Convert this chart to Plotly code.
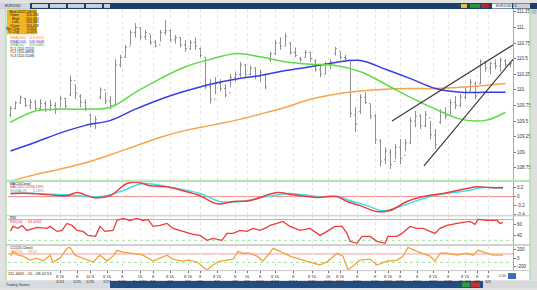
import plotly.graph_objects as go

# ---------------- data ----------------
bar_index = list(range(101))
open_ = [109.60,109.70,109.79,109.86,109.75,109.80,109.70,109.78,109.68,109.75,
         109.70,109.86,109.92,110.15,109.90,109.80,109.60,109.45,109.88,110.00,
         109.82,109.76,110.40,110.52,110.70,110.92,111.00,110.85,110.90,110.76,
         110.72,110.92,110.95,110.80,110.84,110.72,110.66,110.76,110.66,110.52,
         110.05,109.85,110.10,110.02,109.95,110.20,110.25,110.40,110.25,110.35,
         110.22,110.25,110.48,110.58,110.75,110.70,110.75,110.60,110.50,110.52,
         110.60,110.46,110.32,110.25,110.40,110.58,110.62,110.52,110.48,109.60,
         109.65,109.88,109.78,109.58,109.18,108.88,109.00,108.85,109.08,108.95,
         109.15,109.50,109.58,109.42,109.55,109.28,109.48,109.64,109.60,109.80,
         109.75,109.88,109.98,110.10,110.10,110.45,110.35,110.42,110.38,110.46,
         110.40]
high_ = [109.74,109.82,109.91,109.87,109.85,109.84,109.85,109.82,109.84,109.80,
         109.90,109.87,110.23,110.09,109.93,109.85,109.61,109.58,110.04,109.96,
         109.90,110.49,110.56,110.72,110.96,111.07,111.00,110.96,110.88,110.80,
         110.96,111.12,110.96,110.88,110.84,110.80,110.80,110.84,110.68,110.52,
         110.17,110.20,110.17,110.09,110.25,110.29,110.45,110.41,110.39,110.36,
         110.33,110.25,110.61,110.80,110.84,110.91,110.77,110.68,110.53,110.64,
         110.61,110.49,110.41,110.45,110.49,110.69,110.61,110.56,110.45,109.72,
         109.93,109.96,109.77,109.61,109.21,109.08,109.05,109.13,109.21,109.21,
         109.56,109.66,109.61,109.66,109.50,109.37,109.69,109.72,109.85,109.90,
         109.93,110.04,110.17,110.13,110.49,110.45,110.45,110.49,110.52,110.49,
         110.44]
low_ = [109.56,109.69,109.77,109.72,109.69,109.67,109.66,109.64,109.66,109.61,
        109.72,109.69,109.90,109.85,109.72,109.66,109.40,109.37,109.85,109.77,
        109.69,109.74,110.36,110.52,110.72,110.84,110.80,110.80,110.72,110.68,
        110.77,110.88,110.77,110.74,110.68,110.61,110.64,110.64,110.52,110.01,
        109.78,109.93,109.98,109.88,110.04,110.13,110.20,110.20,110.23,110.17,
        110.13,110.01,110.45,110.56,110.64,110.71,110.56,110.52,110.45,110.52,
        110.45,110.29,110.20,110.25,110.33,110.55,110.49,110.45,109.56,109.32,
        109.61,109.77,109.53,109.13,108.77,108.81,108.73,108.89,108.81,109.02,
        109.13,109.40,109.37,109.40,109.21,109.05,109.45,109.53,109.61,109.69,
        109.72,109.85,109.98,109.85,110.09,110.29,110.25,110.33,110.29,110.36,
        110.36]
close_ = [109.70,109.79,109.88,109.75,109.80,109.70,109.78,109.68,109.75,109.70,
          109.86,109.74,110.15,109.95,109.80,109.70,109.45,109.52,110.00,109.82,
          109.75,110.40,110.52,110.68,110.92,111.00,110.85,110.92,110.76,110.70,
          110.92,110.95,110.80,110.84,110.72,110.66,110.76,110.70,110.55,110.05,
          109.85,110.10,110.02,109.92,110.20,110.25,110.40,110.25,110.35,110.22,
          110.28,110.05,110.58,110.75,110.70,110.86,110.60,110.55,110.48,110.60,
          110.50,110.32,110.25,110.40,110.45,110.66,110.52,110.50,109.62,109.45,
          109.88,109.80,109.58,109.20,108.85,109.02,108.80,109.08,108.90,109.15,
          109.50,109.58,109.42,109.60,109.28,109.12,109.64,109.58,109.80,109.75,
          109.88,109.98,110.12,109.90,110.45,110.35,110.42,110.38,110.48,110.40,
          110.42]

ma_x = [0,5,10,15,20,25,30,35,40,45,50,55,60,65,70,75,80,85,90,95,99]
ma50 = [109.48,109.66,109.69,109.69,109.72,109.96,110.18,110.37,110.49,110.58,110.53,
        110.45,110.41,110.39,110.29,110.09,109.88,109.69,109.53,109.51,109.64]
ma100 = [109.02,109.16,109.31,109.43,109.51,109.69,109.85,109.98,110.09,110.17,110.23,
         110.31,110.37,110.44,110.47,110.33,110.18,110.02,109.96,109.96,109.96]
ma200 = [108.54,108.64,108.73,108.83,108.96,109.10,109.24,109.35,109.43,109.51,109.61,
         109.72,109.85,109.93,109.98,110.01,110.02,110.02,110.04,110.07,110.10]

trend1_x = [76.3, 100.5]
trend1_y = [109.50, 110.72]
trend2_x = [82.7, 100.5]
trend2_y = [108.78, 110.49]

macd_x = [0,4.5,11.3,13.3,16.5,19.9,23.3,25.9,27.9,31.3,34.5,37.9,41.3,44.5,47.9,53.3,
          56.5,61.3,65.3,67.3,69.9,73.3,75.9,79.3,82.5,86.5,91.3,93.3,95.9,98.5]
macd_line = [0.07,0.07,0.02,0.09,-0.02,0.02,0.29,0.31,0.24,0.22,0.13,0.02,-0.16,-0.11,
             -0.09,0.09,0.04,-0.02,0.00,-0.11,-0.20,-0.33,-0.31,-0.11,0.00,0.07,0.18,
             0.22,0.20,0.20]
signal_x = [0,4.5,11.3,17.9,21.9,26.5,31.3,37.9,41.9,45.9,51.3,55.9,61.3,65.3,68.5,
            71.3,74.5,77.9,81.3,84.5,91.3,94.5,98.5]
signal_line = [0.07,0.07,0.04,0.00,0.11,0.29,0.22,0.07,-0.11,-0.11,0.00,0.07,0.00,0.00,
               -0.11,-0.20,-0.31,-0.22,-0.09,0.02,0.13,0.20,0.18]

rsi_x = [0,0.5,1.5,2.3,3.3,5.3,7.3,7.9,9.3,10.3,11.3,12.3,13.3,14.5,15.5,17.0,17.9,18.9,
         20.5,21.3,22.5,23.9,25.3,26.5,27.5,28.5,29.9,31.3,32.5,33.9,35.3,36.5,37.9,39.3,
         40.5,42.3,43.3,44.5,45.9,47.3,48.5,49.9,51.3,51.9,53.3,54.5,55.9,57.9,59.9,61.9,
         63.3,64.9,66.3,67.3,67.9,69.3,70.3,71.9,73.3,74.9,75.5,77.3,78.3,79.9,81.3,82.5,
         83.9,84.9,85.9,87.3,89.3,91.3,91.9,92.9,93.5,95.3,97.3,97.9,98.5]
rsi_val = [48.0,56.7,52.9,58.6,49.0,54.8,52.9,56.7,47.1,49.0,62.4,58.6,49.0,47.1,39.5,
           37.6,56.7,47.1,49.0,68.1,71.9,68.1,71.9,68.1,70.0,56.7,58.6,62.4,52.9,49.0,
           45.2,41.4,39.5,30.0,33.8,30.0,43.3,43.3,49.0,47.1,52.9,49.0,54.8,58.6,62.4,
           66.2,56.7,49.0,52.9,39.5,47.1,56.7,56.7,43.3,28.1,24.3,37.6,37.6,28.1,24.3,
           37.6,37.6,43.3,56.7,52.9,52.9,47.1,43.3,52.9,58.6,62.4,64.3,66.2,60.5,70.0,
           68.1,68.1,62.4,64.3]

cci_x = [0,0.5,1.5,2.5,3.9,5.3,6.5,7.9,8.5,9.9,11.3,11.9,12.9,14.3,15.3,16.5,17.9,19.3,
         20.5,21.3,22.5,24.5,26.5,28.5,29.9,31.3,32.5,34.3,35.5,37.3,38.3,39.3,40.5,41.9,
         44.5,45.5,46.5,47.9,49.3,50.5,51.5,52.5,53.9,55.9,58.5,61.9,63.5,65.3,66.5,67.5,
         68.5,69.9,71.9,73.3,75.3,77.3,78.5,79.5,81.3,82.5,83.9,84.9,85.9,87.3,89.3,91.3,
         92.5,93.5,95.3,96.5,98.5]
cci_val = [47,163,70,47,-47,0,-70,70,-93,0,233,256,70,0,-47,-93,70,-70,47,186,140,116,
           70,-70,0,70,-23,-70,-47,-93,-186,-280,-163,-70,-23,163,116,116,47,-70,70,233,
           163,47,-47,-163,-70,116,47,-280,-186,-47,-23,-163,-70,-47,47,256,163,116,47,
           -70,116,116,70,116,70,186,116,70,70]

price_ticks = [111.25,111.0,110.75,110.5,110.25,110.0,109.75,109.5,109.25,109.0,108.75]
price_tick_text = ["111.25","111.","110.75","110.5","110.25","110.","109.75","109.5",
                   "109.25","109.","108.75"]
macd_ticks = [0.2, 0, -0.2, -0.4]
macd_tick_text = ["0.2", "0", "-0.2", "-0.4"]
rsi_ticks = [60, 40]
cci_ticks = [200, 0, -200]

date_pos = [9.9,13.3,15.9,19.3,22.3,25.9,28.5,31.9,35.5,37.9,41.3,44.9,47.3,49.9,52.9,
            56.5,60.3,63.5,65.9,69.3,72.9,75.5,77.9,81.3,84.5,87.5,90.9,93.3,95.5]
date_text = ["8 16<br>1/24","8<br>1/25","16 8<br>1/26","8 16<br>1/27","8<br>1/30",
             "16<br>Fe 1/31","8<br>2/1","8 16<br>2/2","8 16<br>2/3","8<br>2/6",
             "8 16<br>2/7","8<br>2/8","16<br>2/9","8<br>2/10","8 16<br>2/13","8<br>2/14",
             "8 16<br>2/15","16<br>2/16","8 16<br>2/17","8<br>2/20","8<br>2/21",
             "8 16<br>2/22","8<br>2/23","8<br>2/24","8 16<br>2/27","8<br>2/28",
             "8 16<br>Mr 3/1","8<br>3/2","8<br>3/3"]

# ---------------- helpers (layout only) ----------------
W, H = 537, 290
def fx(p):
    return p / W
def fy(p):
    return 1 - p / H

FONT = "Liberation Sans"
fig = go.Figure()

fig.add_trace(go.Ohlc(x=bar_index, open=open_, high=high_, low=low_, close=close_,
                      increasing_line_color="#909090", decreasing_line_color="#909090",
                      line_width=1, tickwidth=0.3, xaxis="x", yaxis="y",
                      showlegend=False, hoverinfo="skip"))
fig.add_trace(go.Scatter(x=ma_x, y=ma200, mode="lines", line=dict(color="#F5A54A", width=1.5, shape="spline"),
                         xaxis="x", yaxis="y", showlegend=False, hoverinfo="skip"))
fig.add_trace(go.Scatter(x=ma_x, y=ma100, mode="lines", line=dict(color="#3B3BE6", width=1.5, shape="spline"),
                         xaxis="x", yaxis="y", showlegend=False, hoverinfo="skip"))
fig.add_trace(go.Scatter(x=ma_x, y=ma50, mode="lines", line=dict(color="#5EDC48", width=1.5, shape="spline"),
                         xaxis="x", yaxis="y", showlegend=False, hoverinfo="skip"))
for tx, ty in ((trend1_x, trend1_y), (trend2_x, trend2_y)):
    fig.add_trace(go.Scatter(x=tx, y=ty, mode="lines", line=dict(color="#3a3a3a", width=1.2),
                             xaxis="x", yaxis="y", showlegend=False, hoverinfo="skip", cliponaxis=True))

fig.add_trace(go.Scatter(x=signal_x, y=signal_line, mode="lines", line=dict(color="#3EE0E8", width=1.5, shape="spline"),
                         xaxis="x2", yaxis="y2", showlegend=False, hoverinfo="skip"))
fig.add_trace(go.Scatter(x=macd_x, y=macd_line, mode="lines", line=dict(color="#EE3B3B", width=1.5, shape="spline"),
                         xaxis="x2", yaxis="y2", showlegend=False, hoverinfo="skip"))
fig.add_trace(go.Scatter(x=rsi_x, y=rsi_val, mode="lines", line=dict(color="#EE3B3B", width=1.3),
                         xaxis="x3", yaxis="y3", showlegend=False, hoverinfo="skip"))
fig.add_trace(go.Scatter(x=cci_x, y=cci_val, mode="lines", line=dict(color="#F5A23A", width=1.3),
                         xaxis="x4", yaxis="y4", showlegend=False, hoverinfo="skip"))

xr = [-0.5, 100.5]
xdom = [fx(8), fx(513)]
def xax(anchor, labels=False):
    d = dict(domain=xdom, range=xr, anchor=anchor, showgrid=True, gridcolor="#e6e6e6",
             griddash="dot", gridwidth=1, tickvals=date_pos, zeroline=False, showline=False,
             fixedrange=True)
    if labels:
        d.update(ticktext=date_text, showticklabels=True, ticks="outside", ticklen=2,
                 tickcolor="#666", tickfont=dict(size=4, color="#333", family=FONT))
    else:
        d.update(showticklabels=False, ticks="")
    return d

def yax(dom, rng, tv, tt, anchor):
    return dict(domain=dom, range=rng, anchor=anchor, side="right", tickvals=tv, ticktext=tt,
                ticks="outside", ticklen=2, tickcolor="#777", showline=True, linecolor="#a8a8a8",
                linewidth=1, showgrid=False, zeroline=False, fixedrange=True,
                tickfont=dict(size=4.5, color="#333", family=FONT))

fig.update_layout(
    width=W, height=H, autosize=False, margin=dict(l=0, r=0, t=0, b=0),
    paper_bgcolor="#e2e2e2", plot_bgcolor="rgba(0,0,0,0)", showlegend=False,
    font=dict(family=FONT, size=5),
    xaxis=dict(**xax("y"), rangeslider=dict(visible=False)),
    xaxis2=dict(**xax("y2"), matches="x"),
    xaxis3=dict(**xax("y3"), matches="x"),
    xaxis4=dict(**xax("y4", labels=True), matches="x"),
    yaxis=yax([fy(181), fy(9)], [108.558, 111.297], price_ticks, price_tick_text, "x"),
    yaxis2=yax([fy(217), fy(183)], [-0.42, 0.33], macd_ticks, macd_tick_text, "x2"),
    yaxis3=yax([fy(246), fy(218)], [22.4, 75.7], rsi_ticks, ["60", "40"], "x3"),
    yaxis4=yax([fy(272), fy(248)], [-285, 282], cci_ticks, ["200", "0", "-200"], "x4"),
)

shapes = []
def rect(x0, y0, x1, y1, color, layer="below"):
    shapes.append(dict(type="rect", xref="paper", yref="paper", x0=fx(x0), x1=fx(x1),
                       y0=fy(y1), y1=fy(y0), fillcolor=color, line=dict(width=0), layer=layer))
def hline_px(x0, x1, y, color, width=1, dash="solid"):
    shapes.append(dict(type="line", xref="paper", yref="paper", x0=fx(x0), x1=fx(x1),
                       y0=fy(y), y1=fy(y), line=dict(color=color, width=width, dash=dash)))
def vline_px(x, y0, y1, color, width=1):
    shapes.append(dict(type="line", xref="paper", yref="paper", x0=fx(x), x1=fx(x),
                       y0=fy(y0), y1=fy(y1), line=dict(color=color, width=width)))
def level(axis, val, color, dash="solid"):
    shapes.append(dict(type="line", xref="x domain", yref=axis, x0=0, x1=1, y0=val, y1=val,
                       line=dict(color=color, width=1, dash=dash), layer="below"))

# chart canvas
rect(6, 9, 530, 282, "#ffffff")
# top toolbar
rect(0, 3, 537, 9, "#1d3f6b")
rect(0, 3, 30, 9, "#cfd6de")
for a, b in ((32, 48), (50, 66), (68, 84), (86, 102), (104, 110)):
    rect(a, 4, b, 8, "#c9d3df")
rect(461, 4, 467, 8, "#e8c23a")
rect(470, 4, 480, 8, "#2f8f3a")
rect(481, 4, 489, 8, "#b02a2a")
rect(492, 3.5, 512, 8.5, "#f2f2f2")
rect(513, 3.5, 530, 8.5, "#cfcfcf")
# right scrollbar
rect(531, 9, 537, 282, "#dedede")
rect(531.5, 9.5, 536.5, 14, "#bdbdbd")
# bottom status bar
rect(0, 283, 537, 290, "#1f4d86")
rect(0, 283, 110, 290, "#d6dbe1")
rect(462, 284, 470, 289, "#2f9a3e")
rect(471, 284, 480, 289, "#c23232")
rect(483, 283, 537, 290, "#d8d8d8")
# blue icon bottom right
rect(508, 275, 516, 281, "#3a6fb8")
# frame lines
vline_px(6, 9, 282, "#8ee08e")
vline_px(530, 9, 282, "#8ee08e")
hline_px(6, 530, 181.5, "#a4e6a4")
hline_px(6, 530, 182.8, "#c8c8c8")
hline_px(6, 530, 217.3, "#c0c0c0")
hline_px(6, 530, 246.8, "#c0c0c0", width=1.5)
hline_px(6, 530, 272.5, "#c8c8c8")
# indicator levels
level("y2", 0, "#f08a8a")
level("y3", 70, "#f29a9a")
level("y3", 30, "#9ee29e", dash="dot")
level("y4", 100, "#f29a9a")
level("y4", -100, "#9ee29e", dash="dot")
# legend box
rect(7, 9.5, 37, 34.5, "#f2b522", layer="above")
fig.update_layout(shapes=shapes)

ann = []
def txt(x, y, s, color="#111", size=3.6, anchor="left"):
    ann.append(dict(x=fx(x), y=fy(y), xref="paper", yref="paper", text=s, showarrow=False,
                    xanchor=anchor, yanchor="middle", font=dict(size=size, color=color, family=FONT)))

txt(22, 12, "Wed 02/22 08:00", anchor="center")
rows = [("Open", "110.482"), ("High", "110.493"), ("Low", "110.385"), ("Close", "110.428"),
        ("Net Chg", "-0.054"), ("% Chg", "-0.05%")]
for k, (a, b) in enumerate(rows):
    yy = 15.5 + 3.4 * k
    txt(21, yy, a, anchor="right")
    txt(24, yy, b)
txt(8, 38.5, "SMA(200)", "#f08a20"); txt(27, 38.5, "110.0970", "#f08a20")
txt(8, 42, "SMA(100)", "#3030d0"); txt(27, 42, "109.9648", "#3030d0")
txt(8, 45.5, "SMA(50)", "#33b833"); txt(27, 45.5, "109.6380", "#33b833")
txt(8, 49, "TL1 (110.7152)")
txt(8, 52.5, "TL2 (110.4894)")
txt(8, 56, "TL3 (110.5108)")
txt(8, 185.2, "MACD(Close)", size=3.4)
txt(8, 188.7, "MACD(12,26,9)", "#e03030", size=3.4); txt(31, 188.7, "0.1995", "#e03030", size=3.4)
txt(8, 192.2, "SIGNAL(9)", "#20b8c8", size=3.4); txt(31, 192.2, "0.1870", "#20b8c8", size=3.4)
txt(8, 220, "RSI")
txt(8, 223.4, "RSI(14)", "#e03030"); txt(26, 223.4, "63.4744", "#e03030")
txt(8, 250, "CCI(20,Close)")
txt(8, 253.4, "CCI(20)", "#f08a20"); txt(26, 253.4, "33.62", "#f08a20")
txt(6, 275.5, "111-4041 - 10 - 08:02:53", "#222", size=4)
txt(497, 277.5, "0.00", "#444", size=3.5)
txt(3, 6, "EUR/USD", "#222", size=3.5)
txt(494, 6, "EUR/USD 10", "#1d3f6b", size=3.5)
txt(4, 286.5, "Trading Station", "#333", size=3.5)
fig.update_layout(annotations=ann)

fig.write_html("out.html")
